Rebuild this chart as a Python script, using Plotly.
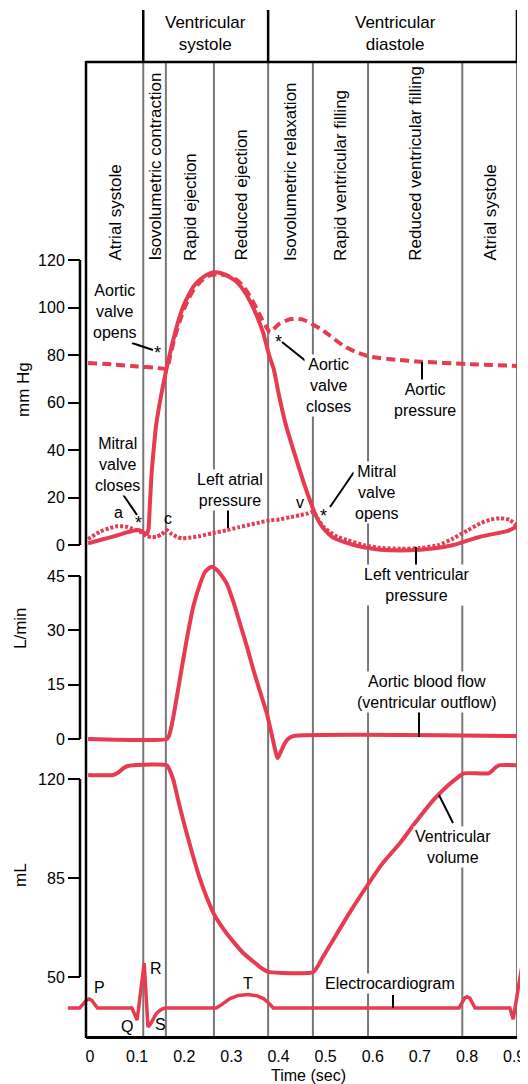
import plotly.graph_objects as go

# Reference picture is 528 x 1084; the page body adds an 8px margin,
# so the figure is 8px smaller on each axis and all pixel positions are shifted.
OFF = 8
W, H = 528 - OFF, 1084 - OFF


def px(x):
    return (x - OFF) / W


def py(y):
    return 1 - (y - OFF) / H


# ---------------- data ----------------
phase_bounds = [-0.0085, 0.113, 0.161, 0.263, 0.378, 0.473, 0.590, 0.790, 0.906]
phase_names = ["Atrial systole", "Isovolumetric contraction", "Rapid ejection",
               "Reduced ejection", "Isovolumetric relaxation",
               "Rapid ventricular filling", "Reduced ventricular filling",
               "Atrial systole"]
header_names = ["Ventricular<br>systole", "Ventricular<br>diastole"]
header_bounds = [0.113, 0.378, 0.906]

time_ticks = [0, 0.1, 0.2, 0.3, 0.4, 0.5, 0.6, 0.7, 0.8, 0.9]
time_labels = ["0", "0.1", "0.2", "0.3", "0.4", "0.5", "0.6", "0.7", "0.8", "0.9"]
pressure_ticks = [0, 20, 40, 60, 80, 100, 120]
flow_ticks = [0, 15, 30, 45]
volume_ticks = [50, 85, 120]

lv_t = [-0.004, 0.02, 0.035, 0.055, 0.071, 0.09, 0.1, 0.108, 0.115, 0.12, 0.124, 0.127,
        0.131, 0.135, 0.14, 0.15, 0.16, 0.17, 0.18, 0.19, 0.2, 0.21, 0.22, 0.235, 0.25,
        0.265, 0.28, 0.295, 0.31, 0.325, 0.34, 0.355, 0.368, 0.38, 0.39, 0.4, 0.415,
        0.43, 0.445, 0.46, 0.47, 0.48, 0.49, 0.5, 0.517, 0.54, 0.56, 0.59, 0.616,
        0.66, 0.70, 0.74, 0.771, 0.80, 0.828, 0.86, 0.885, 0.906]
lv_p = [0.7, 2.0, 2.8, 3.9, 4.9, 5.9, 6.3, 6.0, 5.0, 4.6, 6.5, 17, 31, 40, 50, 62, 72,
        81, 89, 96, 101.5, 105.5, 109, 112, 114, 114.8, 114.3, 113, 111, 107.5, 102.5,
        96, 89, 80, 74, 64, 51, 41, 31.5, 22.5, 17, 12, 8.5, 6, 3, 1.2, 0, -1.3, -2,
        -2.3, -2, -1.2, 0, 1.8, 3.5, 4.8, 5.8, 7.8]

aortic_t = [-0.004, 0.05, 0.1, 0.14, 0.163, 0.17, 0.18, 0.19, 0.2, 0.21, 0.22, 0.235,
            0.25, 0.27, 0.29, 0.31, 0.325, 0.34, 0.355, 0.365, 0.375, 0.382, 0.39,
            0.403, 0.42, 0.435, 0.45, 0.46, 0.488, 0.51, 0.537, 0.565, 0.594, 0.65,
            0.70, 0.8, 0.906]
aortic_p = [76.6, 76.0, 75.2, 74.6, 74.3, 79.5, 87.5, 94, 99.5, 104, 107.5, 111, 113.2,
            114, 113.5, 111.8, 109, 104.5, 99, 95, 91.5, 89.5, 91, 93.3, 94.8, 95.3,
            95, 94.2, 91.2, 88, 84, 81.2, 79.3, 78, 77.2, 76.2, 75.4]

atrial_t = [-0.004, 0.021, 0.04, 0.057, 0.075, 0.09, 0.106, 0.12, 0.13, 0.141, 0.152,
            0.163, 0.172, 0.184, 0.195, 0.215, 0.234, 0.26, 0.29, 0.315, 0.34, 0.36,
            0.382, 0.403, 0.425, 0.446, 0.462, 0.474, 0.485, 0.495, 0.51, 0.525, 0.545,
            0.58, 0.616, 0.66, 0.70, 0.74, 0.771, 0.8, 0.828, 0.85, 0.87, 0.89, 0.906]
atrial_p = [2.5, 5.6, 7.0, 7.9, 7.8, 6.8, 5.6, 3.8, 3.3, 3.5, 4.5, 6.3, 4.8, 3.5, 2.8,
            3.2, 3.8, 5.0, 6.2, 7.4, 8.6, 9.5, 10.4, 10.8, 11.7, 12.6, 13.3, 14.0, 10.5,
            7.7, 5.3, 3.5, 2.1, 0, -1.2, -1.6, -1.3, 0, 2.8, 6, 9.1, 10.7, 11.3, 10.6, 8]

flow_t = [-0.004, 0.163, 0.168, 0.177, 0.19, 0.205, 0.22, 0.234, 0.245, 0.258, 0.27,
          0.28, 0.29, 0.304, 0.318, 0.333, 0.347, 0.361, 0.375, 0.387, 0.398, 0.405,
          0.412, 0.42, 0.431, 0.906]
flow_v = [0, 0, 1, 6.2, 16, 27.3, 37, 43, 46.3, 47.6, 46.6, 45, 43, 38, 32, 25.5, 19, 13,
          7.2, 0.5, -5.3, -3.5, -1.5, 0, 0.8, 0.8]

volume_t = [-0.004, 0.049, 0.06, 0.07, 0.08, 0.092, 0.163, 0.17, 0.177, 0.19, 0.205,
            0.22, 0.234, 0.248, 0.262, 0.283, 0.304, 0.325, 0.347, 0.365, 0.379, 0.474,
            0.495, 0.516, 0.55, 0.587, 0.62, 0.658, 0.69, 0.729, 0.76, 0.78, 0.793,
            0.846, 0.855, 0.862, 0.87, 0.906]
volume_v = [121.4, 121.4, 122.3, 123.7, 124.6, 124.9, 124.9, 122.8, 119.6, 110.5, 100.9,
            92, 84.3, 78, 72.6, 67, 62.5, 58.5, 55.4, 53, 51.8, 51.8, 57.3, 63.1, 72.5,
            82, 90, 97.4, 104.5, 112.6, 117.8, 120.5, 122, 122, 123.2, 124.3, 124.9, 124.9]

ecg_t = [-0.047, -0.022, -0.015, -0.008, -0.002, 0.004, 0.010, 0.016, 0.089, 0.100,
         0.115, 0.123, 0.128, 0.134, 0.141, 0.149, 0.156, 0.163, 0.268, 0.28, 0.297,
         0.315, 0.336, 0.355, 0.368, 0.38, 0.389, 0.783, 0.789, 0.795, 0.80, 0.806,
         0.812, 0.817, 0.891, 0.898, 0.918]
ecg_mv = [0, 0, 0.08, 0.17, 0.2, 0.17, 0.08, 0, 0, -0.27, 1.0, -0.42, -0.36, -0.23,
          -0.12, -0.05, -0.01, 0, 0, 0.08, 0.21, 0.28, 0.30, 0.27, 0.21, 0.1, 0, 0, 0.1,
          0.22, 0.25, 0.22, 0.1, 0, 0, -0.25, 1.03]

# ---------------- style ----------------
RED = "#E63B51"
FONT = "Liberation Sans, Arial, Helvetica, sans-serif"
LW = 4

fig = go.Figure()
fig.add_trace(go.Scatter(x=lv_t, y=lv_p, mode="lines", xaxis="x", yaxis="y",
                         line=dict(color=RED, width=LW, shape="spline", smoothing=0.5),
                         name="Left ventricular pressure"))
fig.add_trace(go.Scatter(x=atrial_t, y=atrial_p, mode="lines", xaxis="x", yaxis="y",
                         line=dict(color=RED, width=LW, dash="3px,2px", shape="spline",
                                   smoothing=0.5),
                         name="Left atrial pressure"))
fig.add_trace(go.Scatter(x=aortic_t, y=aortic_p, mode="lines", xaxis="x", yaxis="y",
                         line=dict(color=RED, width=LW, dash="9px,5px", shape="spline",
                                   smoothing=0.5),
                         name="Aortic pressure"))
fig.add_trace(go.Scatter(x=flow_t, y=flow_v, mode="lines", xaxis="x", yaxis="y2",
                         line=dict(color=RED, width=LW, shape="spline", smoothing=0.5),
                         name="Aortic blood flow"))
fig.add_trace(go.Scatter(x=volume_t, y=volume_v, mode="lines", xaxis="x", yaxis="y3",
                         line=dict(color=RED, width=LW, shape="spline", smoothing=0.5),
                         name="Ventricular volume"))
fig.add_trace(go.Scatter(x=ecg_t, y=ecg_mv, mode="lines", xaxis="x2", yaxis="y4",
                         line=dict(color=RED, width=3.5), name="Electrocardiogram"))

# axis geometry (pixel calibration)
T_PER_PX = 1 / 471.25
X0 = 90  # pixel of t = 0
x_left, x_right = 86, 517


def t_at(xpix):
    return (xpix - X0) * T_PER_PX


axis_common = dict(showgrid=False, zeroline=False, ticks="outside", ticklen=12,
                   tickwidth=2, tickcolor="black", showline=False, automargin=False,
                   tickfont=dict(size=16, color="black", family=FONT),
                   anchor="free", position=px(80), side="left")

fig.update_layout(
    template="none",
    width=W, height=H, margin=dict(l=0, r=0, t=0, b=0, pad=0),
    paper_bgcolor="white", plot_bgcolor="rgba(0,0,0,0)", showlegend=False,
    font=dict(family=FONT, size=16, color="black"),
    xaxis=dict(domain=[px(x_left), px(x_right)], range=[t_at(x_left), t_at(x_right)],
               anchor="free", position=py(1037), showline=True, linecolor="black",
               linewidth=2.5, showgrid=False, zeroline=False, ticks="outside",
               ticklen=4, tickcolor="rgba(0,0,0,0)", tickvals=time_ticks,
               ticktext=time_labels, automargin=False,
               tickfont=dict(size=16, color="black", family=FONT)),
    xaxis2=dict(domain=[px(60), 1], range=[t_at(60), t_at(528)], visible=False,
                anchor="y4", automargin=False),
    yaxis=dict(domain=[py(560), py(250)], range=[(545 - 560) / 2.375, (545 - 250) / 2.375],
               tickvals=pressure_ticks, **axis_common),
    yaxis2=dict(domain=[py(762), py(560)], range=[(739 - 762) / 3.62, (739 - 560) / 3.62],
                tickvals=flow_ticks, **axis_common),
    yaxis3=dict(domain=[py(990), py(762)],
                range=[50 - (990 - 977) / 2.829, 120 + (779 - 762) / 2.829],
                tickvals=volume_ticks, **axis_common),
    yaxis4=dict(domain=[py(1045), py(940)], range=[(1008 - 1045) / 45, (1008 - 940) / 45],
                visible=False, anchor="x2", automargin=False),
)

shapes = []
# gray phase lines
for b in phase_bounds[1:]:
    shapes.append(dict(type="line", xref="x", yref="paper", x0=b, x1=b,
                       y0=py(62), y1=py(1037), layer="below",
                       line=dict(color="#777777", width=2)))
# header vertical lines
for b in header_bounds:
    shapes.append(dict(type="line", xref="x", yref="paper", x0=b, x1=b,
                       y0=py(10), y1=py(62), line=dict(color="black", width=2.5)))
# header horizontal line
shapes.append(dict(type="line", xref="paper", yref="paper", x0=px(x_left), x1=px(x_right),
                   y0=py(62), y1=py(62), line=dict(color="black", width=2.5)))
# left frame
shapes.append(dict(type="line", xref="paper", yref="paper", x0=px(x_left), x1=px(x_left),
                   y0=py(61), y1=py(1038), line=dict(color="black", width=2.5)))
# y spines
for yref, lo, hi in [("y", 0, 120), ("y2", 0, 45), ("y3", 50, 120)]:
    shapes.append(dict(type="line", xref="paper", yref=yref, x0=px(80), x1=px(80),
                       y0=lo, y1=hi, line=dict(color="black", width=2.5)))
# pointer lines (pixel coords)
pointers = [((132, 343), (153, 350)), ((122, 493), (137, 515)), ((228, 510), (228, 528)),
            ((282, 342), (307, 362)), ((422, 362), (422, 382)), ((330, 507), (354, 472)),
            ((416, 547), (416, 568)), ((419, 710), (419, 737)), ((439, 795), (453, 823)),
            ((393, 995), (393, 1008))]
for (xa, ya), (xb, yb) in pointers:
    shapes.append(dict(type="line", xref="paper", yref="paper", x0=px(xa), x1=px(xb),
                       y0=py(ya), y1=py(yb), line=dict(color="black", width=2)))
fig.update_layout(shapes=shapes)

ann = []
# phase labels
for i, name in enumerate(phase_names):
    mid = (phase_bounds[i] + phase_bounds[i + 1]) / 2
    ann.append(dict(text=name, x=mid, xref="x", y=py(263), yref="paper", showarrow=False,
                    textangle=-90, xanchor="center", yanchor="bottom",
                    font=dict(size=17, color="black")))
# headers
for i, name in enumerate(header_names):
    xc = 205 if i == 0 else 395
    ann.append(dict(text=name, x=px(xc), y=py(33), xref="paper", yref="paper",
                    showarrow=False, xanchor="center", yanchor="middle",
                    font=dict(size=17, color="black")))
# axis titles
for txt, xx, yy in [("mm Hg", 23, 390), ("L/min", 20, 628), ("mL", 20, 875)]:
    ann.append(dict(text=txt, x=px(xx), y=py(yy), xref="paper", yref="paper",
                    showarrow=False, textangle=-90, xanchor="center", yanchor="middle",
                    font=dict(size=17, color="black")))
ann.append(dict(text="Time (sec)", x=px(308), y=py(1075), xref="paper", yref="paper",
                showarrow=False, xanchor="center", yanchor="middle",
                font=dict(size=16, color="black")))
# curve annotations
labels = [("Aortic<br>valve<br>opens", 115, 311), ("Mitral<br>valve<br>closes", 117, 464),
          ("Left atrial<br>pressure", 230, 490), ("Aortic<br>valve<br>closes", 328, 386),
          ("Aortic<br>pressure", 425, 400), ("Mitral<br>valve<br>opens", 377, 492),
          ("Left ventricular<br>pressure", 417, 585),
          ("Aortic blood flow<br>(ventricular outflow)", 427, 692),
          ("Ventricular<br>volume", 453, 847), ("Electrocardiogram", 390, 983)]
for txt, xx, yy in labels:
    ann.append(dict(text=txt, x=px(xx), y=py(yy), xref="paper", yref="paper",
                    showarrow=False, xanchor="center", yanchor="middle",
                    bgcolor="white", font=dict(size=16, color="black")))
small = [("a", 118, 513), ("c", 168, 518), ("v", 300, 503), ("P", 99, 987),
         ("Q", 127, 1026), ("R", 156, 968), ("S", 160, 1024), ("T", 248, 983)]
for txt, xx, yy in small:
    ann.append(dict(text=txt, x=px(xx), y=py(yy), xref="paper", yref="paper",
                    showarrow=False, xanchor="center", yanchor="middle",
                    font=dict(size=16, color="black")))
for xx, yy in [(157, 349), (138, 519), (278, 338), (323, 512)]:
    ann.append(dict(text="*", x=px(xx), y=py(yy + 4), xref="paper", yref="paper",
                    showarrow=False, xanchor="center", yanchor="middle",
                    font=dict(size=18, color="black")))
fig.update_layout(annotations=ann)

fig.write_html("out.html")
